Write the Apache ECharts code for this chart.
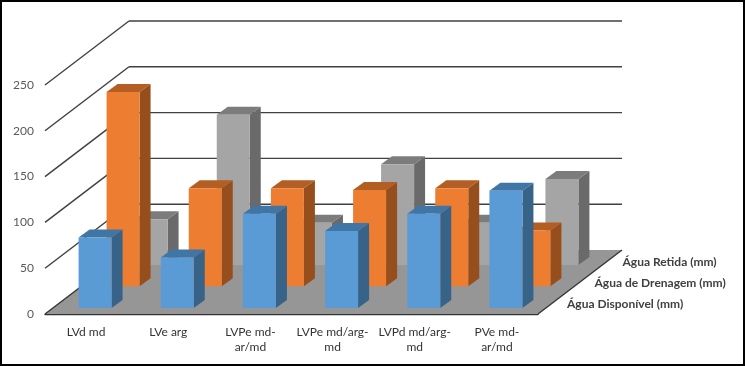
<!DOCTYPE html>
<html>
<head>
<meta charset="utf-8">
<style>
  html, body { margin: 0; padding: 0; background: #fff; }
  #chart { width: 745px; height: 366px; }
</style>
<script src="https://cdn.jsdelivr.net/npm/echarts@6/dist/echarts.min.js"></script>
</head>
<body>
<div id="chart"></div>
<script>
const categories = ['LVd md', 'LVe arg', 'LVPe md-\nar/md', 'LVPe md/arg-\nmd', 'LVPd md/arg-\nmd', 'PVe md-\nar/md']
const aguaDisponivel = [77, 55, 103, 84, 103, 128]
const aguaDrenagem = [212, 107, 107, 105, 107, 61]
const aguaRetida = [50, 164, 46, 110, 46, 94]
const yTicks = [50, 100, 150, 200, 250]

// fake 3d: screen offset of the back wall and of each bar row
const gridLeft = 45
const gridWidth = 493
const wall = { x: 84, y: -64 }
const barWidth = 33
const barDepth = { x: 11, y: -8 }

function wallLines(params, api) {
  const p = api.coord([0, api.value(0)])
  const x0 = gridLeft
  const style = { stroke: '#404040', lineWidth: 1.4 }
  return {
    type: 'group',
    children: [
      { type: 'line', shape: { x1: x0, y1: p[1], x2: x0 + wall.x, y2: p[1] + wall.y }, style },
      { type: 'line', shape: { x1: x0 + wall.x, y1: p[1] + wall.y, x2: x0 + wall.x + gridWidth, y2: p[1] + wall.y }, style }
    ]
  }
}

function floor(params, api) {
  const y = api.coord([0, 0])[1]
  const x0 = gridLeft
  const x1 = gridLeft + gridWidth
  return {
    type: 'group',
    children: [
      {
        type: 'polygon',
        shape: { points: [[x0, y], [x1, y], [x1 + wall.x, y + wall.y], [x0 + wall.x, y + wall.y]] },
        style: { fill: '#969696' }
      },
      { type: 'line', shape: { x1: x0, y1: y, x2: x0 + wall.x, y2: y + wall.y }, style: { stroke: '#333', lineWidth: 1.3 } },
      { type: 'line', shape: { x1: x1, y1: y, x2: x1 + wall.x, y2: y + wall.y }, style: { stroke: '#333', lineWidth: 1.3 } }
    ]
  }
}

function barRow(offset, colors) {
  return function (params, api) {
    const top = api.coord([api.value(0), api.value(1)])
    const base = api.coord([api.value(0), 0])
    const l = base[0] + offset.x - barWidth / 2
    const r = l + barWidth
    const b = base[1] + offset.y
    const t = top[1] + offset.y
    return {
      type: 'group',
      children: [
        { type: 'polygon', shape: { points: [[r, b], [r + barDepth.x, b + barDepth.y], [r + barDepth.x, t + barDepth.y], [r, t]] }, style: { fill: colors[2] } },
        { type: 'polygon', shape: { points: [[l, t], [r, t], [r + barDepth.x, t + barDepth.y], [l + barDepth.x, t + barDepth.y]] }, style: { fill: colors[1] } },
        { type: 'rect', shape: { x: l, y: t, width: barWidth, height: b - t }, style: { fill: colors[0] } }
      ]
    }
  }
}

function toPairs(values) {
  return values.map((v, i) => [i, v])
}

const chart = echarts.init(document.getElementById('chart'))
chart.setOption({
  animation: false,
  backgroundColor: '#fff',
  textStyle: { fontFamily: 'Lato' },
  grid: { left: gridLeft, width: gridWidth, top: 85, height: 229 },
  xAxis: {
    type: 'category',
    data: categories,
    axisLine: { lineStyle: { color: '#333', width: 1.4 } },
    axisTick: { show: false },
    axisLabel: { color: '#333', fontSize: 12, lineHeight: 15.5, margin: 10, interval: 0 }
  },
  yAxis: {
    type: 'value',
    min: 0,
    max: 250,
    interval: 50,
    axisLine: { show: false },
    axisTick: { show: false },
    splitLine: { show: false },
    axisLabel: { color: '#595959', fontSize: 12, margin: 11, padding: [4, 0, 0, 0] }
  },
  graphic: [
    { type: 'rect', silent: true, shape: { x: 1, y: 1, width: 743, height: 364 }, style: { fill: 'none', stroke: '#000', lineWidth: 2 } },
    { type: 'text', x: 622.5, y: 262, style: { text: 'Água Retida (mm)', fill: '#404040', font: 'bold 12px Lato', verticalAlign: 'middle' } },
    { type: 'text', x: 594.5, y: 283, style: { text: 'Água de Drenagem (mm)', fill: '#404040', font: 'bold 12px Lato', verticalAlign: 'middle' } },
    { type: 'text', x: 567, y: 304.5, style: { text: 'Água Disponível (mm)', fill: '#404040', font: 'bold 12px Lato', verticalAlign: 'middle' } }
  ],
  series: [
    { type: 'custom', name: 'floor', renderItem: floor, data: [[0]], encode: { x: [], y: [] } },
    { type: 'custom', name: 'wall', renderItem: wallLines, data: yTicks.map(v => [v]), encode: { x: [], y: [] } },
    { type: 'custom', name: 'Água Retida (mm)', renderItem: barRow({ x: 65, y: -49 }, ['#A5A5A5', '#7C7C7C', '#6A6A6A']), data: toPairs(aguaRetida) },
    { type: 'custom', name: 'Água de Drenagem (mm)', renderItem: barRow({ x: 37, y: -27.7 }, ['#ED7D31', '#B35E22', '#964F1C']), data: toPairs(aguaDrenagem) },
    { type: 'custom', name: 'Água Disponível (mm)', renderItem: barRow({ x: 9, y: -6 }, ['#5B9BD5', '#4076A6', '#386388']), data: toPairs(aguaDisponivel) }
  ]
})
</script>
</body>
</html>
